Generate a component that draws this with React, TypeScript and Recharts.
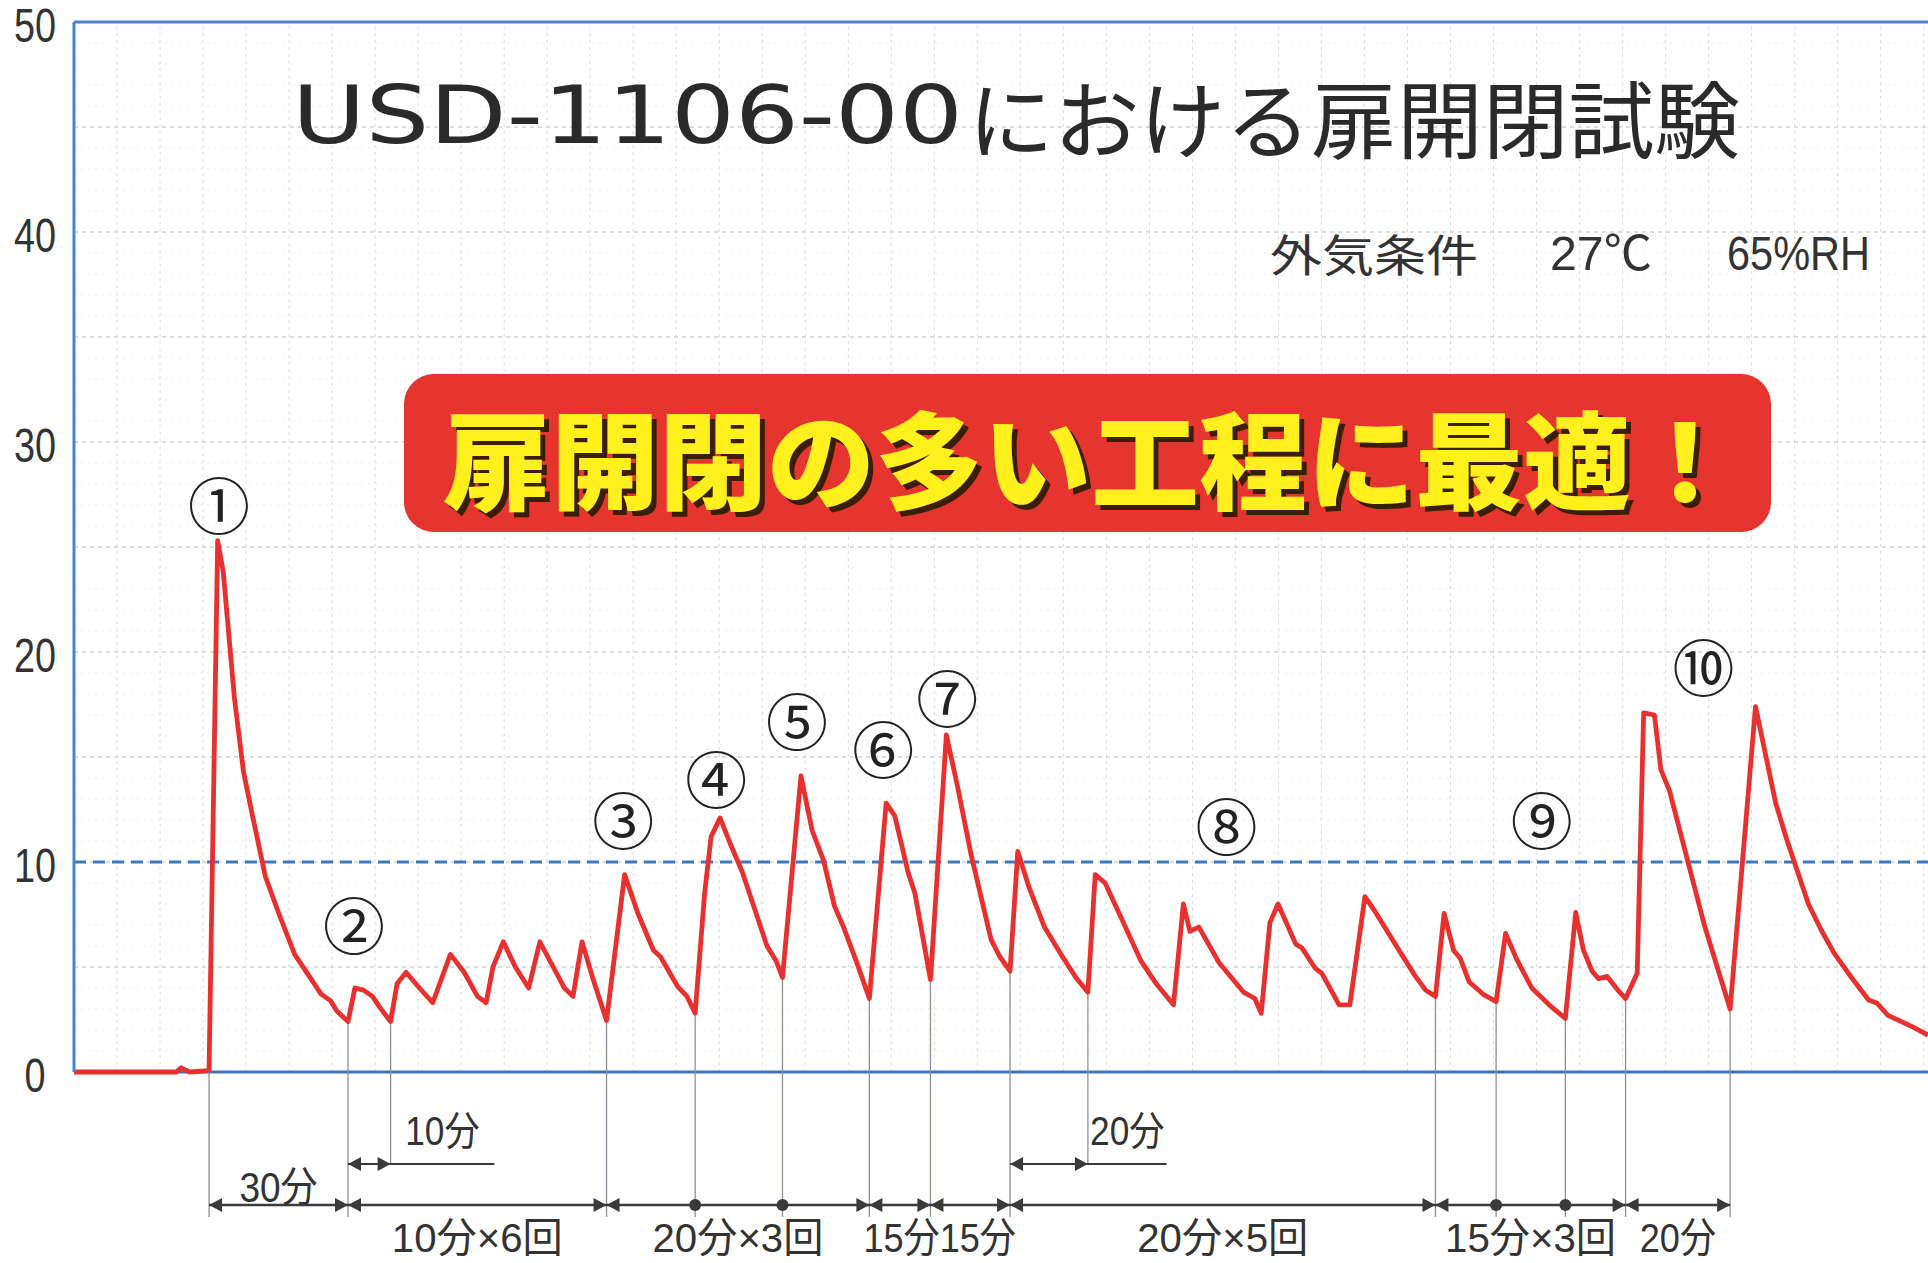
import React from "react";
import { LineChart, Line, XAxis, YAxis, ReferenceLine, ReferenceDot } from "recharts";

type Pt = [number, number];

// [elapsed minutes, temperature °C]
const warmUp: Pt[] = [
  [0, 0], [23.8, 0], [24.9, 0.2], [26.9, 0], [30.6, 0.05], [31.4, 0.1],
  [33.4, 25.3], [34.7, 23.8], [37.3, 17.8], [39.4, 14.3], [41.4, 12.3], [44.5, 9.3],
  [47.7, 7.5], [51.3, 5.6], [54.4, 4.65], [57.5, 3.7], [59.6, 3.4], [61.1, 2.9],
];
const tenMinCycles: Pt[] = [
  [63.7, 2.4], [65.3, 4.0], [67.3, 3.9], [69.4, 3.6], [71.0, 3.1], [73.6, 2.4],
  [75.1, 4.2], [77.2, 4.75], [80.3, 4.0], [83.4, 3.3], [87.5, 5.6], [90.7, 4.75],
  [93.8, 3.6], [95.8, 3.3], [97.4, 5.0], [99.8, 6.2], [102.6, 5.0], [105.7, 4.0],
  [108.3, 6.2], [111.4, 5.0], [114.0, 4.0], [116.0, 3.6], [118.1, 6.2], [120.7, 4.4],
];
const twentyMinCyclesA: Pt[] = [
  [123.8, 2.45], [128.0, 9.4], [131.1, 7.55], [134.7, 5.8], [136.3, 5.5], [140.4, 4.05],
  [142.5, 3.6], [144.4, 2.8], [146.6, 8.5], [148.1, 11.2], [150.2, 12.1], [152.3, 11.0],
  [155.4, 9.5], [158.0, 7.9], [161.1, 6.0], [163.2, 5.3], [164.7, 4.5], [169.0, 14.1],
  [171.6, 11.5], [174.2, 10.1], [176.8, 7.9], [178.9, 6.9], [182.0, 5.2],
];
const fifteenMinCyclesA: Pt[] = [
  [184.9, 3.5], [188.8, 12.8], [190.8, 12.2], [193.9, 9.5], [195.5, 8.5], [199.1, 4.4],
  [202.8, 16.05], [205.4, 13.6], [208.5, 10.4], [213.2, 6.3], [215.2, 5.5],
];
const twentyMinCyclesB: Pt[] = [
  [217.6, 4.8], [219.4, 10.5], [222.0, 8.8], [225.6, 6.9], [229.3, 5.65], [232.9, 4.5],
  [235.7, 3.8], [237.4, 9.4], [239.7, 9.0], [243.3, 7.4], [248.0, 5.3], [251.6, 4.2],
  [255.6, 3.2], [257.9, 8.0], [259.4, 6.7], [261.5, 6.9], [266.2, 5.2], [271.9, 3.8],
  [274.5, 3.5], [276.0, 2.8], [278.0, 7.1], [279.9, 8.0], [284.0, 6.1], [285.5, 5.9],
  [288.5, 4.95], [290.1, 4.7], [294.1, 3.2], [296.6, 3.2], [300.1, 8.35], [302.6, 7.6],
  [307.7, 5.9], [311.7, 4.6], [314.2, 3.9],
];
const fifteenMinCyclesB: Pt[] = [
  [316.5, 3.6], [318.5, 7.55], [320.7, 5.8], [322.3, 5.4], [324.3, 4.3], [327.8, 3.67],
  [330.6, 3.35], [332.8, 6.6], [335.3, 5.4], [338.9, 4.0], [342.9, 3.2], [346.7, 2.55],
  [349.1, 7.6], [350.9, 5.8], [352.9, 4.8], [354.4, 4.45], [356.4, 4.55], [358.9, 3.9],
];
const finalCycles: Pt[] = [
  [360.7, 3.5], [363.4, 4.7], [364.9, 17.1], [367.4, 17.0], [368.9, 14.4], [370.9, 13.4],
  [379.0, 7.0], [385.0, 3.0], [390.9, 17.4], [395.6, 12.8], [398.2, 11.05], [403.2, 8.0],
  [406.2, 6.75], [409.2, 5.65], [413.2, 4.5], [417.2, 3.43], [419.2, 3.27], [421.7, 2.7],
  [427.3, 2.16], [431.0, 1.76],
];

const yTicks = [0, 10, 20, 30, 40, 50];
const alarmTemp = 10;
const gridMinutes = Array.from({ length: 43 }, (_, i) => (i + 1) * 10);
const gridTemps = Array.from({ length: 49 }, (_, i) => i + 1);

// door-opening marks drawn under the axis
const markTimes = [31.4, 63.7, 123.8, 144.4, 164.7, 184.9, 199.1, 217.6, 316.5, 330.6, 346.7, 360.7, 385.0];
const markKinds = ["start", "pair", "pair", "dot", "dot", "pair", "pair", "pair", "pair", "dot", "dot", "pair", "end"];
const spanLabels = ["30分", "10分×6回", "20分×3回", "15分15分", "20分×5回", "15分×3回", "20分"];
const spanEdges = [0, 1, 2, 5, 7, 8, 11, 12];

// reference interval arrows ("10分", "20分")
const refLabels = ["10分", "20分"];
const refFrom = [63.7, 217.6];
const refTo = [73.6, 235.7];
const refTail = [97.7, 254.0];

const circleLabels = ["①", "②", "③", "④", "⑤", "⑥", "⑦", "⑧", "⑨", "⑩"];
const circleAnchors: Pt[] = [
  [33.7, 27.1], [65.1, 7.1], [127.7, 12.1], [149.3, 14.05], [168.1, 16.8],
  [188.1, 15.5], [203.0, 17.9], [267.9, 11.8], [341.2, 12.1], [378.8, 19.4],
];

const data = [
  ...warmUp, ...tenMinCycles, ...twentyMinCyclesA, ...fifteenMinCyclesA,
  ...twentyMinCyclesB, ...fifteenMinCyclesB, ...finalCycles,
].map(([m, v]) => ({ m, v }));

const tempAt = (t: number) => data.find((d) => Math.abs(d.m - t) < 0.05)?.v ?? 0;

const BLUE = "#4a84c8";
const INK = "#3a3a3a";
const JP = "'Noto Sans CJK JP', 'Noto Sans', sans-serif";
const NARROW = "'Liberation Sans Narrow', 'Liberation Sans', 'Noto Sans CJK JP', sans-serif";

const BAR_Y = -6.33;
const REF_Y = -4.38;
const LINE_END = -6.9;

const textWidth = (s: string, fs: number) =>
  Array.from(s).reduce((w, c) => w + (c.charCodeAt(0) < 128 ? 0.47 : 0.92) * fs, 0);

const YTick = (p: any) => {
  const s = String(p.payload.value);
  return (
    <text x={35} y={p.y + 3} textAnchor="middle" dominantBaseline="central" fontFamily={NARROW}
      fontSize={48} fill="#333" textLength={s.length * 21} lengthAdjust="spacingAndGlyphs">
      {s}
    </text>
  );
};

const head = (kind: string) => (p: any) => {
  const { cx, cy } = p;
  const L = 13, H = 7;
  const pointLeft = `M${cx},${cy} L${cx + L},${cy - H} L${cx + L},${cy + H} Z`;
  const pointRight = `M${cx},${cy} L${cx - L},${cy - H} L${cx - L},${cy + H} Z`;
  if (kind === "dot") return <circle cx={cx} cy={cy} r={6} fill={INK} />;
  if (kind === "start") return <path d={pointLeft} fill={INK} />;
  if (kind === "end") return <path d={pointRight} fill={INK} />;
  return (
    <g>
      <path d={pointLeft} fill={INK} />
      <path d={pointRight} fill={INK} />
    </g>
  );
};

const label = (s: string, fs: number) => (p: any) => (
  <text x={p.cx} y={p.cy} textAnchor="middle" dominantBaseline="central" fontFamily={NARROW}
    fontSize={fs} fill="#333" textLength={textWidth(s, fs)} lengthAdjust="spacingAndGlyphs">
    {s}
  </text>
);

const circled = (s: string) => (p: any) => (
  <text x={p.cx} y={p.cy} textAnchor="middle" dominantBaseline="central" fontFamily={JP}
    fontSize={62} fill="#222">
    {s}
  </text>
);

export default function App() {
  return (
    <div style={{ position: "absolute", left: 0, top: 0, width: 1928, height: 1263, background: "#fff" }}>
      <LineChart width={1928} height={1263} data={data} margin={{ top: 22, right: 0, bottom: 191, left: 0 }}>
        <XAxis type="number" dataKey="m" domain={[0, 431]} hide />
        <YAxis
          domain={[0, 50]}
          ticks={yTicks}
          width={74}
          axisLine={{ stroke: BLUE, strokeWidth: 3 }}
          tickLine={false}
          tick={YTick}
        />

        {gridMinutes.map((t) => (
          <ReferenceLine key={`gx${t}`} x={t} stroke="#dcdcdc" strokeDasharray="3 4" strokeWidth={1} />
        ))}
        {gridTemps.map((v) => (
          <ReferenceLine
            key={`gy${v}`}
            y={v}
            stroke={v % 5 === 0 ? "#d2d2d2" : "#eeeeee"}
            strokeDasharray={v % 5 === 0 ? "4 4" : "2 5"}
            strokeWidth={v % 5 === 0 ? 1.5 : 1}
          />
        ))}

        <ReferenceLine y={50} stroke={BLUE} strokeWidth={3} />
        <ReferenceLine y={0} stroke="#3f72b8" strokeWidth={3} />
        <ReferenceLine y={alarmTemp} stroke="#3b78c4" strokeWidth={3} strokeDasharray="12 7" />

        {/* drop lines from each opening down to the interval bar */}
        {markTimes.map((t) => (
          <ReferenceLine
            key={`ml${t}`}
            segment={[{ x: t, y: tempAt(t) }, { x: t, y: LINE_END }]}
            stroke="#8a8f99"
            strokeWidth={1.3}
            ifOverflow="visible"
          />
        ))}
        {refTo.map((t) => (
          <ReferenceLine
            key={`rl${t}`}
            segment={[{ x: t, y: tempAt(t) }, { x: t, y: REF_Y }]}
            stroke="#8a8f99"
            strokeWidth={1.3}
            ifOverflow="visible"
          />
        ))}

        <Line
          type="linear"
          dataKey="v"
          stroke="#e8302e"
          strokeWidth={4.8}
          strokeLinejoin="round"
          dot={false}
          isAnimationActive={false}
        />

        {/* interval bar */}
        <ReferenceLine
          segment={[{ x: markTimes[0], y: BAR_Y }, { x: markTimes[markTimes.length - 1], y: BAR_Y }]}
          stroke={INK}
          strokeWidth={2.5}
          ifOverflow="visible"
        />
        {markTimes.map((t, i) => (
          <ReferenceDot key={`mh${t}`} x={t} y={BAR_Y} r={1} ifOverflow="visible" shape={head(markKinds[i])} />
        ))}
        {spanLabels.map((s, i) => {
          const a = markTimes[spanEdges[i]];
          const b = markTimes[spanEdges[i + 1]];
          const upper = i === 0;
          return (
            <ReferenceDot
              key={`sl${i}`}
              x={(a + b) / 2}
              y={upper ? -5.5 : -7.9}
              r={1}
              ifOverflow="visible"
              shape={label(s, upper ? 42 : 41)}
            />
          );
        })}

        {/* reference interval arrows */}
        {refLabels.map((s, i) => (
          <ReferenceLine
            key={`ra${i}`}
            segment={[{ x: refFrom[i], y: REF_Y }, { x: refTail[i], y: REF_Y }]}
            stroke={INK}
            strokeWidth={1.8}
            ifOverflow="visible"
          />
        ))}
        {refLabels.map((s, i) => (
          <ReferenceDot key={`rs${i}`} x={refFrom[i]} y={REF_Y} r={1} ifOverflow="visible" shape={head("start")} />
        ))}
        {refLabels.map((s, i) => (
          <ReferenceDot key={`re${i}`} x={refTo[i]} y={REF_Y} r={1} ifOverflow="visible" shape={head("end")} />
        ))}
        {refLabels.map((s, i) => (
          <ReferenceDot
            key={`rt${i}`}
            x={(refTo[i] + refTail[i]) / 2}
            y={-2.8}
            r={1}
            ifOverflow="visible"
            shape={label(s, 40)}
          />
        ))}

        {circleLabels.map((s, i) => (
          <ReferenceDot
            key={`c${i}`}
            x={circleAnchors[i][0]}
            y={circleAnchors[i][1]}
            r={1}
            ifOverflow="visible"
            shape={circled(s)}
          />
        ))}
      </LineChart>

      <svg width={1928} height={1263} style={{ position: "absolute", left: 0, top: 0, pointerEvents: "none" }}>
        <text x={292} y={115} dominantBaseline="central" fontFamily="'DejaVu Sans', sans-serif" fontSize={80}
          fill="#2a2a2a" textLength={671} lengthAdjust="spacingAndGlyphs">USD-1106-00</text>
        <text x={968} y={115} dominantBaseline="central" fontFamily={JP} fontSize={84} fill="#2a2a2a"
          textLength={772} lengthAdjust="spacingAndGlyphs">における扉開閉試験</text>

        <text x={1270} y={253} dominantBaseline="central" fontFamily={JP} fontSize={44} fill="#333"
          textLength={208} lengthAdjust="spacingAndGlyphs">外気条件</text>
        <text x={1550} y={253} dominantBaseline="central" fontFamily={NARROW} fontSize={48} fill="#333"
          textLength={102} lengthAdjust="spacingAndGlyphs">27℃</text>
        <text x={1727} y={253} dominantBaseline="central" fontFamily={NARROW} fontSize={48} fill="#333"
          textLength={143} lengthAdjust="spacingAndGlyphs">65%RH</text>

        <rect x={404} y={374} width={1367} height={158} rx={30} fill="#e6352f" />
        <text x={448} y={460} dominantBaseline="central" fontFamily={JP} fontWeight={900} fontSize={106}
          fill="#3a1e08" textLength={1296} lengthAdjust="spacingAndGlyphs">扉開閉の多い工程に最適！</text>
        <text x={443} y={455} dominantBaseline="central" fontFamily={JP} fontWeight={900} fontSize={106}
          fill="#fff01e" textLength={1296} lengthAdjust="spacingAndGlyphs">扉開閉の多い工程に最適！</text>
      </svg>
    </div>
  );
}
